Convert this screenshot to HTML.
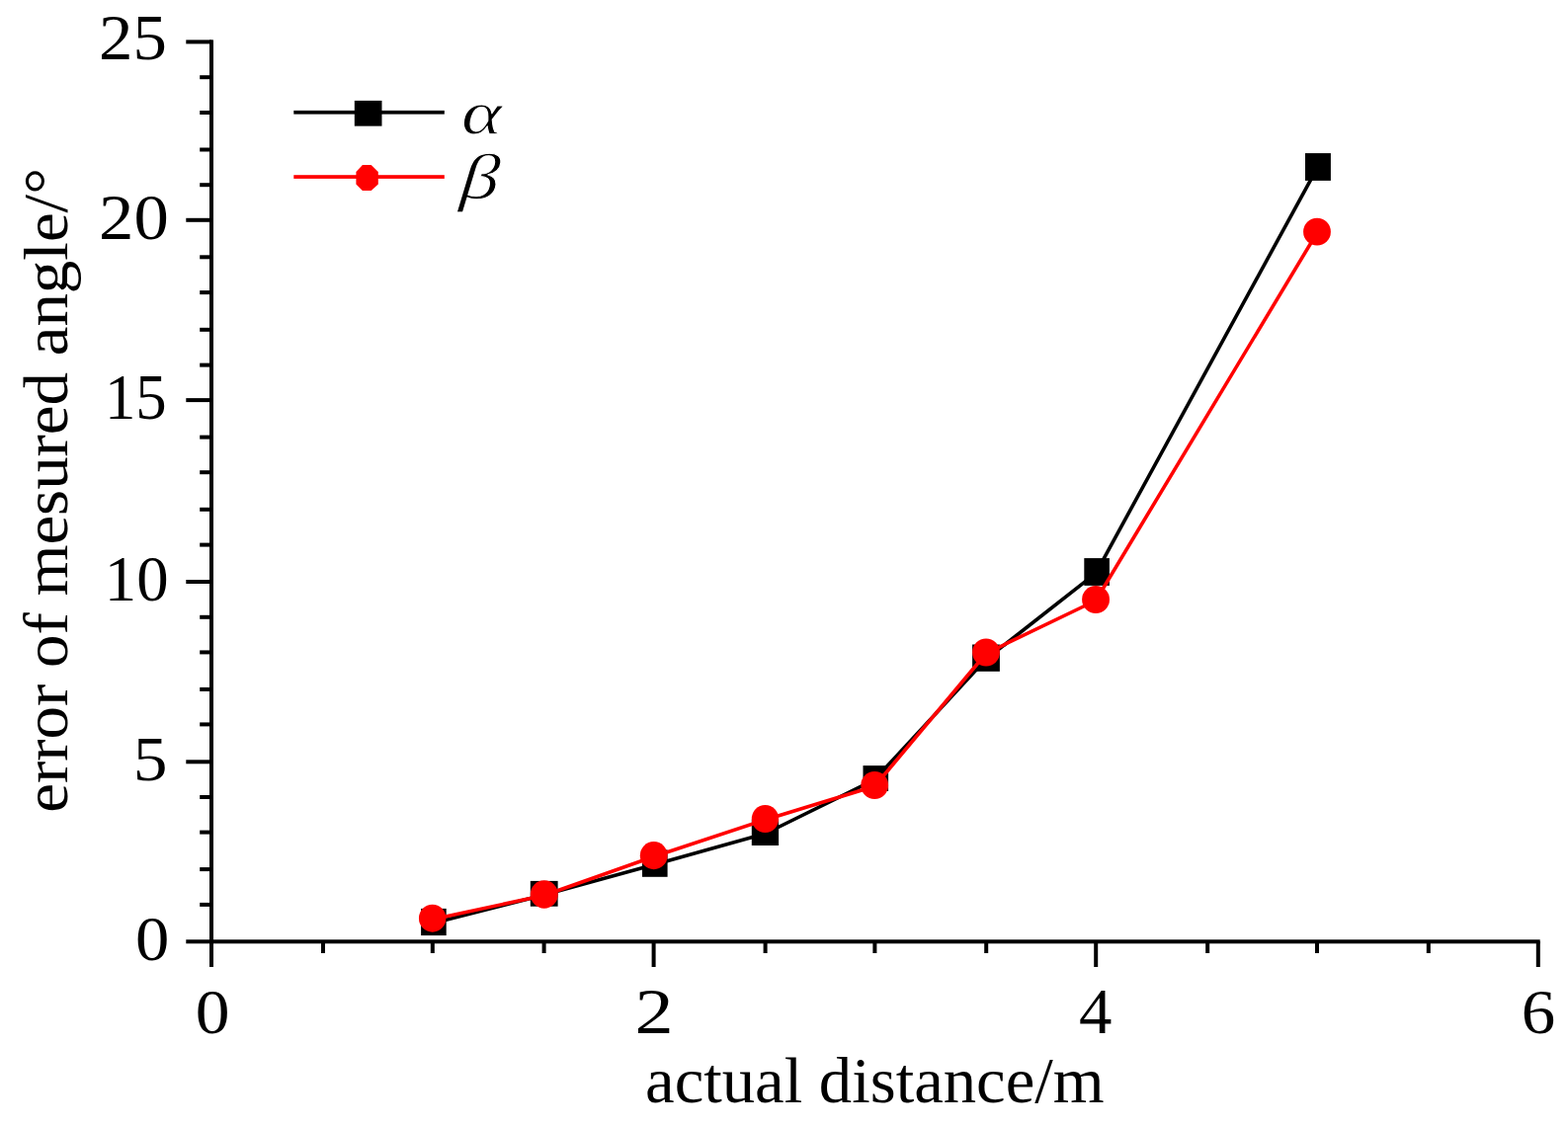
<!DOCTYPE html>
<html lang="en">
<head>
<meta charset="utf-8">
<title>error of mesured angle vs actual distance</title>
<style>
html,body{margin:0;padding:0;background:#fff;}
body{width:1587px;height:1140px;overflow:hidden;}
svg{display:block;position:absolute;left:0;top:0;}
text{font-family:"Liberation Serif","DejaVu Serif",serif;font-size:65px;fill:#000;}
.leg{font-style:italic;stroke:#fff;stroke-width:0.9px;stroke-linejoin:round;}
</style>
</head>
<body>
<svg width="1587" height="1140" viewBox="0 0 1587 1140">
<rect x="0" y="0" width="1587" height="1140" fill="#ffffff"/>

<g fill="#000">
<rect x="212" y="40.4" width="4" height="938.6"/>
<rect x="188.3" y="951.3" width="1370.4" height="4"/>
<rect x="202.2" y="913.90" width="12" height="4"/>
<rect x="202.2" y="878.10" width="12" height="4"/>
<rect x="202.2" y="840.60" width="12" height="4"/>
<rect x="202.2" y="805.00" width="12" height="4"/>
<rect x="188.3" y="769.30" width="26" height="4"/>
<rect x="202.2" y="731.40" width="12" height="4"/>
<rect x="202.2" y="695.90" width="12" height="4"/>
<rect x="202.2" y="658.40" width="12" height="4"/>
<rect x="202.2" y="622.80" width="12" height="4"/>
<rect x="188.3" y="587.00" width="26" height="4"/>
<rect x="202.2" y="549.60" width="12" height="4"/>
<rect x="202.2" y="513.80" width="12" height="4"/>
<rect x="202.2" y="476.20" width="12" height="4"/>
<rect x="202.2" y="440.60" width="12" height="4"/>
<rect x="188.3" y="403.10" width="26" height="4"/>
<rect x="202.2" y="367.60" width="12" height="4"/>
<rect x="202.2" y="331.80" width="12" height="4"/>
<rect x="202.2" y="294.10" width="12" height="4"/>
<rect x="202.2" y="258.30" width="12" height="4"/>
<rect x="188.3" y="220.80" width="26" height="4"/>
<rect x="202.2" y="185.20" width="12" height="4"/>
<rect x="202.2" y="149.50" width="12" height="4"/>
<rect x="202.2" y="112.00" width="12" height="4"/>
<rect x="202.2" y="76.20" width="12" height="4"/>
<rect x="188.3" y="40.40" width="26" height="4"/>
<rect x="325.00" y="953" width="4" height="12"/>
<rect x="435.80" y="953" width="4" height="12"/>
<rect x="548.60" y="953" width="4" height="12"/>
<rect x="659.60" y="953" width="4" height="26"/>
<rect x="772.60" y="953" width="4" height="12"/>
<rect x="883.40" y="953" width="4" height="12"/>
<rect x="996.20" y="953" width="4" height="12"/>
<rect x="1107.20" y="953" width="4" height="26"/>
<rect x="1220.20" y="953" width="4" height="12"/>
<rect x="1331.00" y="953" width="4" height="12"/>
<rect x="1443.80" y="953" width="4" height="12"/>
<rect x="1554.80" y="953" width="4" height="26"/>
</g>
<g>
<text class="tick" transform="matrix(1.0583 0 0 0.9977 100.12 59.60)">25</text>
<text class="tick" transform="matrix(1.0883 0 0 1.0045 100.03 241.80)">20</text>
<text class="tick" transform="matrix(0.9655 0 0 1.0045 105.97 424.20)">15</text>
<text class="tick" transform="matrix(0.9966 0 0 1.0023 105.82 607.90)">10</text>
<text class="tick" transform="matrix(1.0692 0 0 0.9909 134.72 789.81)">5</text>
<text class="tick" transform="matrix(1.0571 0 0 0.9841 136.89 971.82)">0</text>
<text class="tick" transform="matrix(1.0714 0 0 0.9886 197.86 1045.51)">0</text>
<text class="tick" transform="matrix(1.2038 0 0 1.0047 642.49 1046.20)">2</text>
<text class="tick" transform="matrix(1.0290 0 0 1.0047 1092.07 1046.20)">4</text>
<text class="tick" transform="matrix(1.0607 0 0 0.9886 1539.72 1045.51)">6</text>
</g>
<text class="lab" transform="matrix(1.0260 0 0 0.9936 653.05 1115.51)">actual distance/m</text>
<text class="lab" transform="translate(67.7 822.76) rotate(-90) scale(1.0293 0.98)">error of mesured angle/°</text>
<g>
<polyline fill="none" stroke="#000" stroke-width="3.6" stroke-linejoin="round" points="437.8,934.8 550.7,906.1 661.7,875.4 774.5,844.0 885.3,789.3 998.1,667.4 1109.1,580.3 1333.0,170.3"/>
<rect x="426.1" y="919.9" width="25.6" height="27.2" fill="#000"/>
<rect x="536.8" y="891.9" width="27.8" height="25.8" fill="#000"/>
<rect x="650.0" y="860.4" width="25.6" height="27.4" fill="#000"/>
<rect x="760.8" y="829.5" width="27.3" height="26.5" fill="#000"/>
<rect x="873.5" y="775.1" width="25.6" height="25.8" fill="#000"/>
<rect x="984.1" y="652.5" width="27.8" height="27.3" fill="#000"/>
<rect x="1097.3" y="565.1" width="25.6" height="27.8" fill="#000"/>
<rect x="1321.0" y="155.1" width="25.9" height="27.8" fill="#000"/>
<polyline fill="none" stroke="#ff0000" stroke-width="3.6" stroke-linejoin="round" points="437.8,930.7 550.7,906.5 661.7,867.2 774.5,830.0 885.3,796.0 998.1,661.5 1109.1,608.0 1333.0,235.7"/>
<ellipse cx="437.67" cy="929.70" rx="13.72" ry="14.00" fill="#ff0000"/>
<ellipse cx="550.80" cy="905.50" rx="14.00" ry="14.20" fill="#ff0000"/>
<ellipse cx="661.70" cy="866.15" rx="13.90" ry="14.05" fill="#ff0000"/>
<ellipse cx="774.45" cy="828.95" rx="13.65" ry="14.05" fill="#ff0000"/>
<ellipse cx="885.20" cy="794.95" rx="13.90" ry="14.05" fill="#ff0000"/>
<ellipse cx="998.00" cy="660.55" rx="13.90" ry="14.05" fill="#ff0000"/>
<ellipse cx="1109.05" cy="606.95" rx="13.95" ry="14.05" fill="#ff0000"/>
<ellipse cx="1333.00" cy="234.70" rx="13.90" ry="13.90" fill="#ff0000"/>
</g>
<g>
<rect x="297.3" y="111.9" width="152.5" height="3.7" fill="#000"/>
<rect x="358.8" y="101.9" width="27.7" height="25.75" fill="#000"/>
<rect x="297.3" y="177.2" width="152.5" height="3.7" fill="#ff0000"/>
<polygon fill="#ff0000" points="366.9,167.1 375.7,167.1 382.8,173.9 382.8,186.4 375.7,193 366.9,193 360.4,186.4 360.4,173.9"/>
<text class="leg" transform="matrix(1.1970 0 0 0.9406 467.01 134.96)">α</text>
<text class="leg" transform="matrix(1.2042 0 -0.090 1.0000 464.86 201.10)">β</text>
</g>
</svg>
</body>
</html>
